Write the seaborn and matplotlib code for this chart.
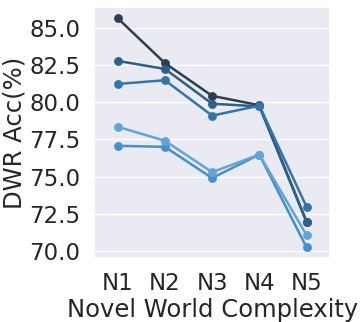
import seaborn as sns
import matplotlib
matplotlib.use("Agg")
import matplotlib.pyplot as plt
import pandas as pd

# Data
levels = ["N1", "N2", "N3", "N4", "N5"]
run_a = [85.65, 82.63, 80.43, 79.80, 71.96]
run_b = [82.78, 82.24, 79.90, 79.72, 71.96]
run_c = [81.23, 81.48, 79.10, 79.77, 72.97]
run_d = [78.35, 77.41, 75.30, 76.48, 71.07]
run_e = [77.07, 77.00, 74.90, 76.48, 70.24]

series = {"a": run_a, "b": run_b, "c": run_c, "e": run_e, "d": run_d}
colors = ["#2d3e50", "#2e5f85", "#3375a9", "#4590c8", "#62a4d6"]

rows = []
for name, vals in series.items():
    for lvl, v in zip(levels, vals):
        rows.append({"run": name, "level": lvl, "acc": v})
df = pd.DataFrame(rows)

sns.set_theme(style="darkgrid")

fig = plt.figure(figsize=(3.62, 3.22), dpi=100)
ax = fig.add_axes([0.26, 0.199, 0.652, 0.779])

sns.pointplot(data=df, x="level", y="acc", hue="run", palette=colors,
              order=levels, markersize=5, linewidth=1.8, legend=False, ax=ax)

ax.set_ylim(69.53, 86.4)
ax.set_yticks([70.0, 72.5, 75.0, 77.5, 80.0, 82.5, 85.0])
ax.set_yticklabels(["70.0", "72.5", "75.0", "77.5", "80.0", "82.5", "85.0"])
ax.tick_params(labelsize=16.5, pad=4)
ax.set_xlabel("Novel World Complexity", fontsize=17.5, labelpad=2)
ax.set_ylabel("DWR Acc(%)", fontsize=17.5, labelpad=2)

fig.savefig("out.png", dpi=100)
